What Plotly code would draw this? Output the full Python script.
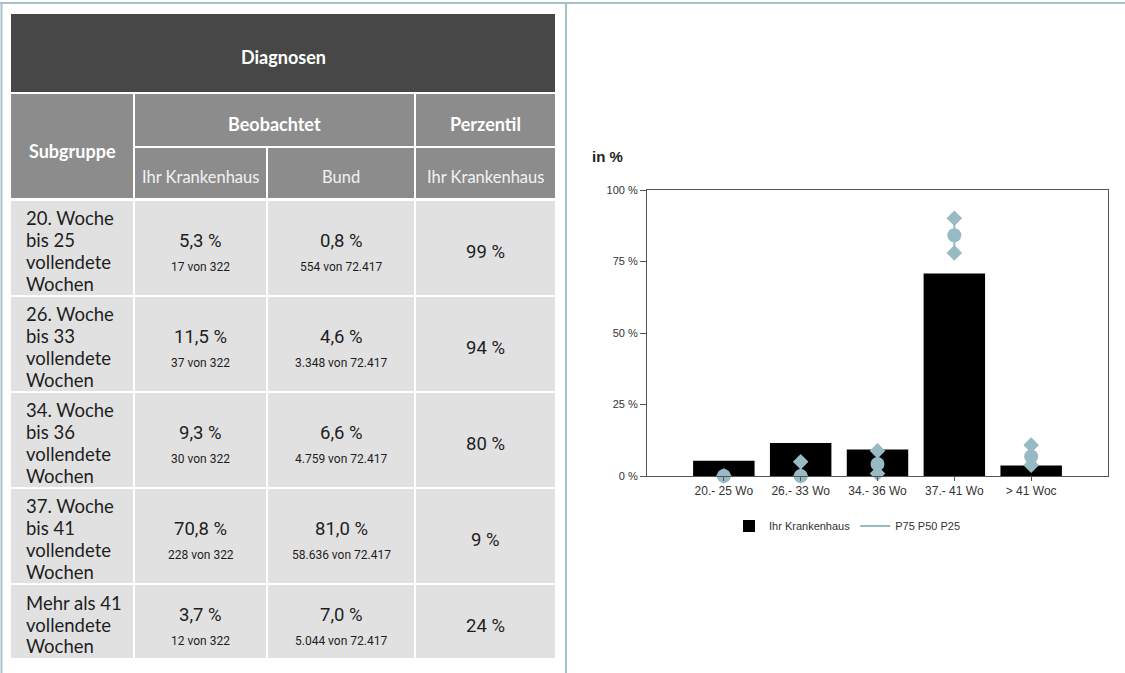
import plotly.graph_objects as go

W, H = 1125, 673

# ---------------- data ----------------
subgroups = ["20. Woche\nbis 25\nvollendete\nWochen",
             "26. Woche\nbis 33\nvollendete\nWochen",
             "34. Woche\nbis 36\nvollendete\nWochen",
             "37. Woche\nbis 41\nvollendete\nWochen",
             "Mehr als 41\nvollendete\nWochen"]
kh_pct = ["5,3 %", "11,5 %", "9,3 %", "70,8 %", "3,7 %"]
kh_count = ["17 von 322", "37 von 322", "30 von 322", "228 von 322", "12 von 322"]
bund_pct = ["0,8 %", "4,6 %", "6,6 %", "81,0 %", "7,0 %"]
bund_count = ["554 von 72.417", "3.348 von 72.417", "4.759 von 72.417",
              "58.636 von 72.417", "5.044 von 72.417"]
perzentil = ["99 %", "94 %", "80 %", "9 %", "24 %"]

categories = ["20.- 25 Wo", "26.- 33 Wo", "34.- 36 Wo", "37.- 41 Wo", "> 41 Woc"]
kh_values = [5.3, 11.5, 9.3, 70.8, 3.7]
p75 = [0.0, 5.0, 8.8, 90.1, 10.8]
p50 = [0.0, 0.0, 4.2, 84.2, 6.8]
p25 = [0.0, 0.0, 0.9, 78.0, 3.8]

y_ticks = [0, 25, 50, 75, 100]
y_ticklabels = ["0 %", "25 %", "50 %", "75 %", "100 %"]

# ---------------- helpers ----------------
def px(x):
    return x / W


def py(y):
    return 1 - y / H


shapes = []
annotations = []


def rect(x0, y0, x1, y1, color):
    shapes.append(dict(type="rect", xref="paper", yref="paper",
                       x0=px(x0), x1=px(x1), y0=py(y1), y1=py(y0),
                       fillcolor=color, line=dict(width=0), layer="below"))


def text(x, y, s, size, color, family, bold=False, anchor="center"):
    if bold:
        s = "<b>" + s + "</b>"
    annotations.append(dict(xref="paper", yref="paper", x=px(x), y=py(y),
                            text=s, showarrow=False, xanchor=anchor,
                            yanchor="middle",
                            font=dict(size=size, color=color, family=family)))


HEAD_FONT = "Lato"
CELL_FONT = "Roboto"

TITLE_BG = "#474747"
HEAD_BG = "#8c8c8c"
CELL_BG = "#e1e1e1"

# outer frame lines (light blue)
FRAME = "#a3c3cc"
shapes.append(dict(type="line", xref="paper", yref="paper", x0=0, x1=1,
                   y0=py(3), y1=py(3), line=dict(color=FRAME, width=2)))
shapes.append(dict(type="line", xref="paper", yref="paper", x0=px(1.5), x1=px(1.5),
                   y0=0, y1=py(3), line=dict(color=FRAME, width=2)))
shapes.append(dict(type="line", xref="paper", yref="paper", x0=px(566), x1=px(566),
                   y0=0, y1=py(3), line=dict(color=FRAME, width=2)))

# table columns
cols = [(11, 133), (135, 266), (268, 414), (416, 555)]
rows = [(201, 295), (297, 391), (393, 487), (489, 583), (585, 658)]

# title row
rect(11, 14, 555, 92, TITLE_BG)
text(283, 57, "Diagnosen", 18, "white", HEAD_FONT, bold=True)

# header rows
rect(cols[0][0], 94, cols[0][1], 198, HEAD_BG)
rect(cols[1][0], 94, cols[2][1], 146, HEAD_BG)
rect(cols[3][0], 94, cols[3][1], 146, HEAD_BG)
for c in cols[1:]:
    rect(c[0], 148, c[1], 198, HEAD_BG)
text(72, 151, "Subgruppe", 18, "white", HEAD_FONT, bold=True)
text((cols[1][0] + cols[2][1]) / 2, 124, "Beobachtet", 18, "white", HEAD_FONT, bold=True)
text((cols[3][0] + cols[3][1]) / 2, 124, "Perzentil", 18, "white", HEAD_FONT, bold=True)
text((cols[1][0] + cols[1][1]) / 2, 177, "Ihr Krankenhaus", 16.5, "#f2f2f2", HEAD_FONT)
text((cols[2][0] + cols[2][1]) / 2, 177, "Bund", 16.5, "#f2f2f2", HEAD_FONT)
text((cols[3][0] + cols[3][1]) / 2, 177, "Ihr Krankenhaus", 16.5, "#f2f2f2", HEAD_FONT)

# data rows
TXT = "#1e1e1e"
LINE_H = 21.7
for i, (r0, r1) in enumerate(rows):
    for c in cols:
        rect(c[0], r0, c[1], r1, CELL_BG)
    cy = (r0 + r1) / 2
    lines = subgroups[i].split("\n")
    n = len(lines)
    for j, ln in enumerate(lines):
        text(24, cy + 3 + (j - (n - 1) / 2) * LINE_H, ln, 18.5, TXT, HEAD_FONT, anchor="left")
    cx1 = (cols[1][0] + cols[1][1]) / 2
    cx2 = (cols[2][0] + cols[2][1]) / 2
    cx3 = (cols[3][0] + cols[3][1]) / 2
    text(cx1, cy - 7, kh_pct[i], 18.5, TXT, CELL_FONT)
    text(cx1, cy + 19, kh_count[i], 12, TXT, CELL_FONT)
    text(cx2, cy - 7, bund_pct[i], 18.5, TXT, CELL_FONT)
    text(cx2, cy + 19, bund_count[i], 12, TXT, CELL_FONT)
    text(cx3, cy + 4, perzentil[i], 18.5, TXT, CELL_FONT)

# chart label
text(590, 156, "in %", 15, "#222222", "Liberation Sans", bold=True, anchor="left")

# ---------------- chart ----------------
PCOL = "#97bac4"
fig = go.Figure()
fig.add_trace(go.Bar(x=categories, y=kh_values, name="Ihr Krankenhaus",
                     marker=dict(color="black", line=dict(width=0)), width=0.8))

lx, ly = [], []
for c, lo, hi in zip(categories, p25, p75):
    lx += [c, c, None]
    ly += [lo, hi, None]
fig.add_trace(go.Scatter(x=lx, y=ly, mode="lines", name="P75 P50 P25",
                         line=dict(color=PCOL, width=2), cliponaxis=False))
fig.add_trace(go.Scatter(x=categories + categories, y=p75 + p25, mode="markers",
                         marker=dict(symbol="diamond", size=12, color=PCOL),
                         showlegend=False, cliponaxis=False))
fig.add_trace(go.Scatter(x=categories, y=p50, mode="markers",
                         marker=dict(symbol="circle", size=14, color=PCOL),
                         showlegend=False, cliponaxis=False))

fig.update_layout(
    width=W, height=H,
    margin=dict(l=0, r=0, t=0, b=0, pad=0, autoexpand=False),
    paper_bgcolor="white", plot_bgcolor="white",
    shapes=shapes, annotations=annotations,
    showlegend=True,
    legend=dict(orientation="h", x=px(729), y=py(526), xanchor="left",
                yanchor="middle", font=dict(size=11, color="#333333",
                                            family="Liberation Sans"),
                itemwidth=30, tracegroupgap=0, bgcolor="rgba(0,0,0,0)"),
    xaxis=dict(domain=[px(647), px(1108)], type="category", automargin=False,
               range=[-1, 5], showline=True, linecolor="#555555", linewidth=1,
               mirror=True, ticks="outside", ticklen=4, tickcolor="#555555",
               showgrid=False, zeroline=False,
               tickfont=dict(size=12, color="#333333", family="Liberation Sans")),
    yaxis=dict(domain=[py(476), py(190)], range=[0, 100], automargin=False,
               tickvals=y_ticks, ticktext=y_ticklabels,
               showline=True, linecolor="#555555", linewidth=1, mirror=True,
               ticks="outside", ticklen=6, tickcolor="#555555",
               showgrid=False, zeroline=False,
               tickfont=dict(size=11, color="#333333", family="Liberation Sans")),
)

fig.write_html("out.html", config={"displayModeBar": False},
               post_script="document.body.style.margin='0';")
